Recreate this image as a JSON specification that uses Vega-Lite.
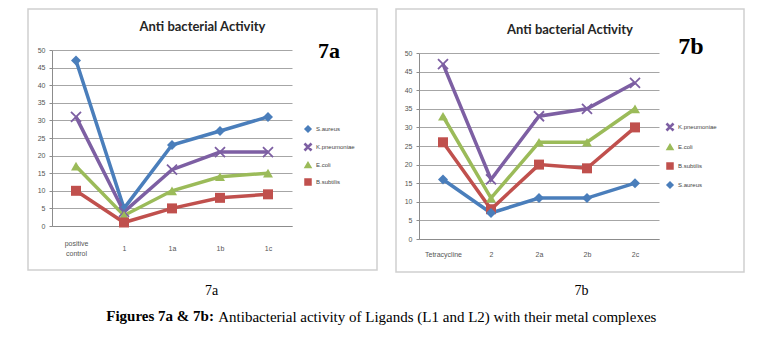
{
  "$schema": "https://vega.github.io/schema/vega-lite/v6.json",
  "padding": {"left": 27, "top": 8, "right": 5, "bottom": 5},
  "background": "white",
  "datasets": {
    "left": [
      {"compound": "positive control", "species": "S.aureus", "value": 47},
      {"compound": "positive control", "species": "K.pneumoniae", "value": 31},
      {"compound": "positive control", "species": "E.coli", "value": 17},
      {"compound": "positive control", "species": "B.subtilis", "value": 10},
      {"compound": "1", "species": "S.aureus", "value": 5},
      {"compound": "1", "species": "K.pneumoniae", "value": 4},
      {"compound": "1", "species": "E.coli", "value": 3},
      {"compound": "1", "species": "B.subtilis", "value": 1},
      {"compound": "1a", "species": "S.aureus", "value": 23},
      {"compound": "1a", "species": "K.pneumoniae", "value": 16},
      {"compound": "1a", "species": "E.coli", "value": 10},
      {"compound": "1a", "species": "B.subtilis", "value": 5},
      {"compound": "1b", "species": "S.aureus", "value": 27},
      {"compound": "1b", "species": "K.pneumoniae", "value": 21},
      {"compound": "1b", "species": "E.coli", "value": 14},
      {"compound": "1b", "species": "B.subtilis", "value": 8},
      {"compound": "1c", "species": "S.aureus", "value": 31},
      {"compound": "1c", "species": "K.pneumoniae", "value": 21},
      {"compound": "1c", "species": "E.coli", "value": 15},
      {"compound": "1c", "species": "B.subtilis", "value": 9}
    ],
    "right": [
      {"compound": "Tetracycline", "species": "K.pneumoniae", "value": 47},
      {"compound": "Tetracycline", "species": "E.coli", "value": 33},
      {"compound": "Tetracycline", "species": "B.subtilis", "value": 26},
      {"compound": "Tetracycline", "species": "S.aureus", "value": 16},
      {"compound": "2", "species": "K.pneumoniae", "value": 16},
      {"compound": "2", "species": "E.coli", "value": 11},
      {"compound": "2", "species": "B.subtilis", "value": 8},
      {"compound": "2", "species": "S.aureus", "value": 7},
      {"compound": "2a", "species": "K.pneumoniae", "value": 33},
      {"compound": "2a", "species": "E.coli", "value": 26},
      {"compound": "2a", "species": "B.subtilis", "value": 20},
      {"compound": "2a", "species": "S.aureus", "value": 11},
      {"compound": "2b", "species": "K.pneumoniae", "value": 35},
      {"compound": "2b", "species": "E.coli", "value": 26},
      {"compound": "2b", "species": "B.subtilis", "value": 19},
      {"compound": "2b", "species": "S.aureus", "value": 11},
      {"compound": "2c", "species": "K.pneumoniae", "value": 42},
      {"compound": "2c", "species": "E.coli", "value": 35},
      {"compound": "2c", "species": "B.subtilis", "value": 30},
      {"compound": "2c", "species": "S.aureus", "value": 15}
    ]
  },
  "title": {
    "text": "Figures 7a & 7b:",
    "orient": "bottom",
    "anchor": "start",
    "dx": 79,
    "offset": -4,
    "baseline": "alphabetic",
    "font": "Liberation Serif",
    "fontSize": 15,
    "fontWeight": "bold",
    "color": "#000000"
  },
  "vconcat": [
    {
      "title": {
        "text": "Antibacterial activity of Ligands (L1 and L2) with their metal complexes",
        "orient": "bottom",
        "anchor": "start",
        "dx": 191,
        "offset": 24,
        "baseline": "alphabetic",
        "font": "Liberation Serif",
        "fontSize": 15,
        "fontWeight": "normal",
        "color": "#000000"
      },
      "spacing": 19,
      "bounds": "flush",
      "resolve": {
        "scale": {"color": "independent", "shape": "independent"},
        "legend": {"color": "independent", "shape": "independent"}
      },
      "hconcat": [
        {
          "width": 349,
          "height": 261,
          "data": {"name": "left"},
          "title": {
            "text": "Anti bacterial Activity",
            "font": "Lato",
            "fontSize": 13,
            "fontWeight": "bold",
            "color": "#262626",
            "anchor": "middle",
            "frame": "group",
            "baseline": "middle",
            "offset": -31
          },
          "encoding": {
            "x": {
              "field": "compound",
              "type": "ordinal",
              "sort": ["positive control", "1", "1a", "1b", "1c"],
              "scale": {"type": "point", "domain": ["positive control", "1", "1a", "1b", "1c"], "range": [24, 264], "padding": 0.5},
              "axis": {
                "offset": -44,
                "ticks": false,
                "grid": false,
                "domainColor": "#8c8c8c",
                "labelAngle": 0,
                "labelFont": "Liberation Sans",
                "labelFontSize": 7,
                "labelColor": "#555555",
                "labelBaseline": "middle",
                "labelPadding": {"condition": {"test": "datum.value == 'positive control'", "value": 17}, "value": 22},
                "labelLineHeight": 10,
                "labelExpr": "datum.value == 'positive control' ? ['positive', 'control'] : datum.value",
                "title": "7a",
                "titleFont": "Liberation Serif",
                "titleFontSize": 14,
                "titleFontWeight": "normal",
                "titleColor": "#000000",
                "titleBaseline": "middle",
                "titleX": 183,
                "titleY": 64
              }
            },
            "y": {
              "field": "value",
              "type": "quantitative",
              "scale": {"domain": [0, 50], "range": [217, 41], "nice": false, "zero": true},
              "axis": {
                "offset": -24,
                "values": [0, 5, 10, 15, 20, 25, 30, 35, 40, 45, 50],
                "grid": true,
                "gridColor": "#a6a6a6",
                "gridWidth": 1,
                "domainColor": "#8c8c8c",
                "tickColor": "#8c8c8c",
                "tickSize": 3,
                "labelFont": "Liberation Sans",
                "labelFontSize": 7,
                "labelColor": "#555555",
                "labelPadding": 4,
                "title": null
              }
            },
            "color": {
              "field": "species",
              "type": "nominal",
              "scale": {
                "domain": ["S.aureus", "K.pneumoniae", "E.coli", "B.subtilis"],
                "range": ["#4a7ebb", "#7d5fa3", "#9bbb59", "#c0504d"]
              },
              "legend": {
                "orient": "none",
                "legendX": 276,
                "legendY": 32,
                "padding": 0,
                "title": "7a",
                "titleFont": "Liberation Serif",
                "titleFontSize": 22,
                "titleFontWeight": "bold",
                "titleColor": "#000000",
                "titleAnchor": "middle",
                "titlePadding": 62,
                "labelFont": "Liberation Sans",
                "labelFontSize": 6,
                "labelColor": "#444444",
                "symbolSize": 36,
                "rowPadding": 5
              }
            }
          },
          "layer": [
            {"mark": {"type": "line", "strokeWidth": 3.5}},
            {
              "mark": {"type": "point", "filled": true, "size": 100, "opacity": 1},
              "encoding": {
                "shape": {
                  "field": "species",
                  "type": "nominal",
                  "scale": {
                    "domain": ["S.aureus", "K.pneumoniae", "E.coli", "B.subtilis"],
                    "range": ["diamond", "M-1.127,-0.873L0.873,1.127L1.127,0.873L-0.873,-1.127ZM-0.873,1.127L1.127,-0.873L0.873,-1.127L-1.127,0.873Z", "triangle-up", "square"]
                  },
                  "legend": {
                    "orient": "none",
                    "legendX": 276,
                    "legendY": 32,
                    "padding": 0,
                    "title": "7a",
                    "titleFont": "Liberation Serif",
                    "titleFontSize": 22,
                    "titleFontWeight": "bold",
                    "titleColor": "#000000",
                    "titleAnchor": "middle",
                    "titlePadding": 62,
                    "labelFont": "Liberation Sans",
                    "labelFontSize": 6,
                    "labelColor": "#444444",
                    "symbolSize": 36,
                    "rowPadding": 5
                  }
                }
              }
            }
          ]
        },
        {
          "width": 348,
          "height": 263,
          "data": {"name": "right"},
          "title": {
            "text": "Anti bacterial Activity",
            "font": "Lato",
            "fontSize": 13,
            "fontWeight": "bold",
            "color": "#262626",
            "anchor": "middle",
            "frame": "group",
            "baseline": "middle",
            "offset": -34
          },
          "encoding": {
            "x": {
              "field": "compound",
              "type": "ordinal",
              "sort": ["Tetracycline", "2", "2a", "2b", "2c"],
              "scale": {"type": "point", "domain": ["Tetracycline", "2", "2a", "2b", "2c"], "range": [23, 263], "padding": 0.5},
              "axis": {
                "offset": -33,
                "ticks": false,
                "grid": false,
                "domainColor": "#8c8c8c",
                "labelAngle": 0,
                "labelFont": "Liberation Sans",
                "labelFontSize": 7,
                "labelColor": "#555555",
                "labelBaseline": "middle",
                "labelPadding": 15,
                "title": "7b",
                "titleFont": "Liberation Serif",
                "titleFontSize": 14,
                "titleFontWeight": "normal",
                "titleColor": "#000000",
                "titleBaseline": "middle",
                "titleX": 185,
                "titleY": 51
              }
            },
            "y": {
              "field": "value",
              "type": "quantitative",
              "scale": {"domain": [0, 50], "range": [230, 44], "nice": false, "zero": true},
              "axis": {
                "offset": -23,
                "values": [0, 5, 10, 15, 20, 25, 30, 35, 40, 45, 50],
                "grid": true,
                "gridColor": "#a6a6a6",
                "gridWidth": 1,
                "domainColor": "#8c8c8c",
                "tickColor": "#8c8c8c",
                "tickSize": 3,
                "labelFont": "Liberation Sans",
                "labelFontSize": 7,
                "labelColor": "#555555",
                "labelPadding": 4,
                "title": null
              }
            },
            "color": {
              "field": "species",
              "type": "nominal",
              "scale": {
                "domain": ["K.pneumoniae", "E.coli", "B.subtilis", "S.aureus"],
                "range": ["#7d5fa3", "#9bbb59", "#c0504d", "#4a7ebb"]
              },
              "legend": {
                "orient": "none",
                "legendX": 270,
                "legendY": 26,
                "padding": 0,
                "title": "7b",
                "titleFont": "Liberation Serif",
                "titleFontSize": 24,
                "titleFontWeight": "bold",
                "titleColor": "#000000",
                "titleAnchor": "middle",
                "titlePadding": 64,
                "labelFont": "Liberation Sans",
                "labelFontSize": 6,
                "labelColor": "#444444",
                "symbolSize": 36,
                "rowPadding": 7
              }
            }
          },
          "layer": [
            {"mark": {"type": "line", "strokeWidth": 3.5}},
            {
              "mark": {"type": "point", "filled": true, "size": 100, "opacity": 1},
              "encoding": {
                "shape": {
                  "field": "species",
                  "type": "nominal",
                  "scale": {
                    "domain": ["K.pneumoniae", "E.coli", "B.subtilis", "S.aureus"],
                    "range": ["M-1.127,-0.873L0.873,1.127L1.127,0.873L-0.873,-1.127ZM-0.873,1.127L1.127,-0.873L0.873,-1.127L-1.127,0.873Z", "triangle-up", "square", "diamond"]
                  },
                  "legend": {
                    "orient": "none",
                    "legendX": 270,
                    "legendY": 26,
                    "padding": 0,
                    "title": "7b",
                    "titleFont": "Liberation Serif",
                    "titleFontSize": 24,
                    "titleFontWeight": "bold",
                    "titleColor": "#000000",
                    "titleAnchor": "middle",
                    "titlePadding": 64,
                    "labelFont": "Liberation Sans",
                    "labelFontSize": 6,
                    "labelColor": "#444444",
                    "symbolSize": 36,
                    "rowPadding": 7
                  }
                }
              }
            }
          ]
        }
      ]
    }
  ],
  "config": {
    "view": {"stroke": "#d0d0d0", "strokeWidth": 1.5}
  }
}
